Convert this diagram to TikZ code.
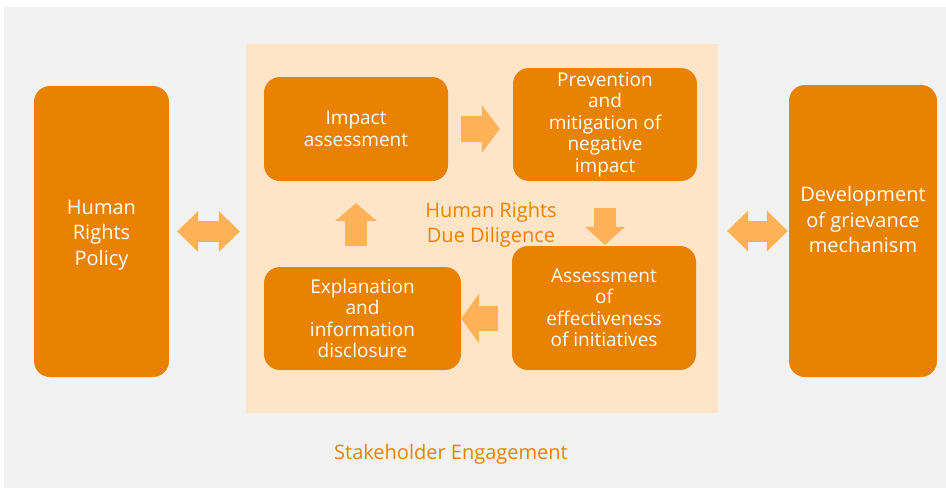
\documentclass[tikz,border=0pt]{standalone}
\usepackage{fontspec}
\setmainfont{Open Sans}
\usetikzlibrary{arrows.meta,calc}
\definecolor{boxorange}{RGB}{233,130,0}
\definecolor{arrowpeach}{RGB}{255,177,87}
\definecolor{panelcream}{RGB}{255,229,199}
\definecolor{backgrey}{RGB}{242,242,242}
\tikzset{
  sidebox/.style={
    fill=boxorange,rounded corners=16pt,inner sep=0pt,text=white,
    align=center,font=\fontsize{20}{25.5}\selectfont
  },
  sidetext/.style={text=white,align=center,font=\fontsize{20}{25.5}\selectfont},
  stepbox/.style={sidebox,font=\fontsize{19}{21.5}\selectfont},
  orangelabel/.style={text=boxorange,align=center,font=\fontsize{20}{25}\selectfont},
  blockarrow/.style 2 args={
    draw=arrowpeach,line width=#1,
    -{Triangle[length=18pt,width=#2,line width=0pt]}
  },
  twoway/.style={
    draw=arrowpeach,line width=21pt,
    {Triangle[length=21pt,width=41pt,line width=0pt]}-{Triangle[length=21pt,width=41pt,line width=0pt]}
  }
}

\begin{document}
\begin{tikzpicture}[x=1pt,y=-1pt]
  \useasboundingbox (0,0) rectangle (946,488);
  \fill[white] (0,0) rectangle (946,488);
  \fill[backgrey] (4,7) rectangle (946,488);

  % due diligence panel and its four steps
  \node[fill=panelcream,minimum width=472pt,minimum height=369pt,inner sep=0pt] (hrdd) at (482,228.5) {};
  \node[stepbox,minimum width=184pt,minimum height=104pt] (impact) at (356,129) {Impact\\assessment};
  \node[stepbox,minimum width=184pt,minimum height=113pt] (prevention) at (605,124.5) {Prevention\\and\\mitigation of\\negative\\impact};
  \node[stepbox,minimum width=184pt,minimum height=124pt] (effect) at (604,308) {Assessment\\of\\effectiveness\\of initiatives};
  \node[stepbox,minimum width=197pt,minimum height=103pt] (disclosure) at (362.5,318.5) {Explanation\\and\\information\\disclosure};
  \node[orangelabel] (ddlabel) at (491,225) {Human Rights\\Due Diligence};

  % outer boxes, text set on top
  \node[sidebox,minimum width=135pt,minimum height=291pt] (policy) at (101.5,231.5) {};
  \node[sidetext] (policytext) at (101.5,235) {Human\\Rights\\Policy};
  \node[sidebox,minimum width=148pt,minimum height=292pt] (grievance) at (863,231) {};
  \node[sidetext] (grievancetext) at (863,219.5) {Development\\of grievance\\mechanism};

  % cycle arrows
  \draw[blockarrow={26pt}{48pt},shorten <=13pt,shorten >=13pt] (impact.east) -- (impact.east -| prevention.west);
  \draw[blockarrow={22pt}{40pt},shorten <=27pt,shorten >=1pt] (prevention.south) -- (prevention.south |- effect.north);
  \draw[blockarrow={25pt}{50pt},shorten <=14pt] (effect.west |- disclosure.east) -- (disclosure.east);
  \draw[blockarrow={22pt}{42pt},shorten <=21pt,shorten >=22pt] (disclosure.north -| impact.south) -- (impact.south);

  % links to the outer boxes
  \draw[twoway,shorten <=8pt,shorten >=6pt] (policy.east) -- (policy.east -| hrdd.west);
  \draw[twoway,shorten <=9pt,shorten >=1pt] (hrdd.east |- grievance.west) -- (grievance.west);

  \node[orangelabel] (engagement) at (451,454) {Stakeholder Engagement};
\end{tikzpicture}
\end{document}
